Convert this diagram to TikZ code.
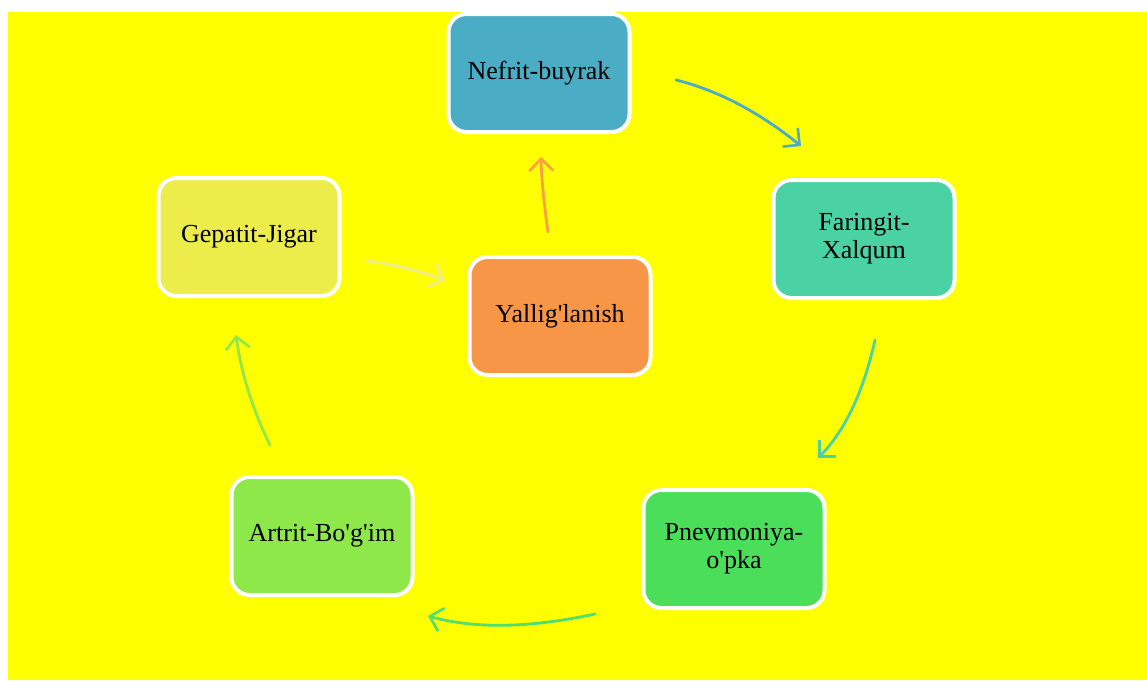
\documentclass[tikz,border=0pt]{standalone}
\usepackage{fontspec}
\setmainfont{Liberation Serif}[Ligatures=TeXOff]
\usetikzlibrary{arrows.meta}
\definecolor{bgyellow}{RGB}{255,255,0}
\definecolor{cNef}{RGB}{75,172,198}
\definecolor{cFar}{RGB}{74,210,165}
\definecolor{cPne}{RGB}{74,222,90}
\definecolor{cArt}{RGB}{143,232,74}
\definecolor{cGep}{RGB}{236,236,74}
\definecolor{cYal}{RGB}{247,150,70}
\definecolor{aNef}{RGB}{75,172,198}
\definecolor{aFar}{RGB}{74,210,165}
\definecolor{aPne}{RGB}{80,222,110}
\definecolor{aArt}{RGB}{143,232,74}
\definecolor{aGep}{RGB}{238,238,140}
\definecolor{aYal}{RGB}{247,160,70}
\tikzset{
  box/.style={draw=white, line width=4pt, rounded corners=18pt,
    minimum width=181pt, minimum height=118pt, align=center,
    font=\fontsize{26}{28}\selectfont, text=black, inner sep=2pt},
  conn/.style={line width=2.8pt, line cap=round,
    -{Straight Barb[length=12pt,width=24pt,line width=2.6pt]}}
}
\begin{document}
\begin{tikzpicture}[x=1pt,y=-1pt]
\useasboundingbox (0,0) rectangle (1147,680);
\fill[white] (0,0) rectangle (1147,680);
\fill[bgyellow] (8,12) rectangle (1147,680);

\node[box, fill=cNef] (nef) at (539,73) {Nefrit-buyrak};
\node[box, fill=cFar] (far) at (864,239) {Faringit-\\Xalqum};
\node[box, fill=cPne] (pne) at (734,549) {Pnevmoniya-\\o'pka};
\node[box, fill=cArt] (art) at (322,536) {Artrit-Bo'g'im};
\node[box, fill=cGep] (gep) at (249,237) {Gepatit-Jigar};
\node[box, fill=cYal] (yal) at (560,316) {Yallig'lanish};

\coordinate (a1s) at (676,80);  \coordinate (a1e) at (801,146);
\coordinate (a2s) at (875,340); \coordinate (a2e) at (818,458);
\coordinate (a3s) at (595,614); \coordinate (a3e) at (428,616);
\coordinate (a4s) at (270,445); \coordinate (a4e) at (236,335);
\coordinate (a5s) at (367,261); \coordinate (a5e) at (445,280);
\coordinate (a6s) at (548,232); \coordinate (a6e) at (541,157);

\draw[conn, aNef] (a1s) .. controls (717,90) and (759,112) .. (a1e);
\draw[conn, aFar] (a2s) .. controls (863.5,392) and (844.5,431.5) .. (a2e);
\draw[conn, aPne] (a3s) .. controls (530,628) and (475,629) .. (a3e);
\draw[conn, aArt] (a4s) .. controls (252,408.5) and (241,372) .. (a4e);
\draw[conn, aGep] (a5s) .. controls (390,263.5) and (416,270) .. (a5e);
\draw[conn, aYal] (a6s) .. controls (543.8,202) and (541.4,177) .. (a6e);
\end{tikzpicture}
\end{document}
